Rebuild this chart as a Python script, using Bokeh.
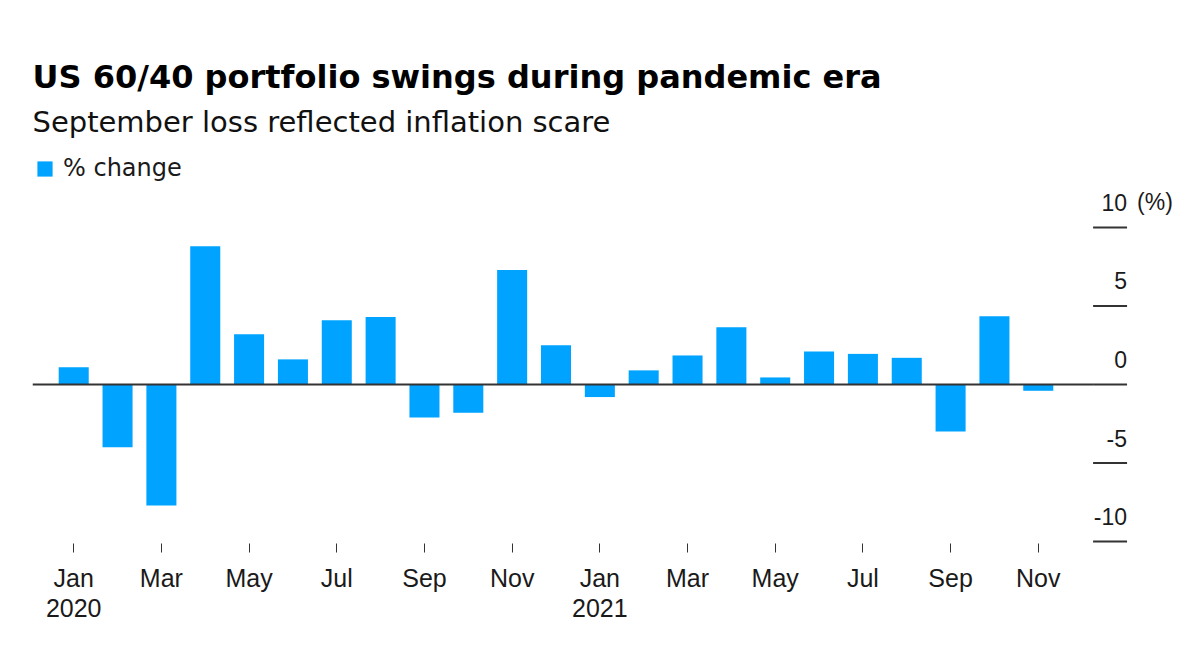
from bokeh.plotting import figure
from bokeh.models import (LinearAxis, FixedTicker, ColumnDataSource, Legend,
                          LegendItem, Range1d, Title)
from bokeh.core.properties import value
from bokeh.embed import file_html
from bokeh.resources import INLINE

# ---------------- data ----------------
months = ["Jan", "Feb", "Mar", "Apr", "May", "Jun", "Jul", "Aug", "Sep", "Oct", "Nov", "Dec",
          "Jan", "Feb", "Mar", "Apr", "May", "Jun", "Jul", "Aug", "Sep", "Oct", "Nov"]
years = [2020] * 12 + [2021] * 11
values = [1.1, -4.0, -7.7, 8.8, 3.2, 1.6, 4.1, 4.3, -2.1, -1.8, 7.3, 2.5,
          -0.8, 0.9, 1.85, 3.65, 0.45, 2.1, 1.95, 1.7, -3.0, 4.35, -0.4]
y_ticks = [-10, -5, 0, 5, 10]
y_tick_labels = ["-10", "-5", "0", "5", "10"]
y_unit = "(%)"

title = "US 60/40 portfolio swings during pandemic era"
subtitle = "September loss reflected inflation scare"
series_name = "% change"

BLUE = "#00a3ff"
INK = "#1a1a1a"
AX = "#333333"

idx = list(range(len(values)))
tick_idx = [i for i in idx if i % 2 == 0]
tick_text = {}
for i in tick_idx:
    lab = months[i]
    if months[i] == "Jan":
        lab = f"{months[i]}\n{years[i]}"
    tick_text[i] = lab

# value-axis geometry (in data units of the month scale)
X_START = -0.94          # left edge of plotting area
AXIS_X = 23.25           # right edge of bar area, where value ticks start
TICK_LEN = 0.775         # length of value tick lines
X_END = 25.70            # frame extends to the right edge of the picture

p = figure(width=1200, height=654,
           x_range=Range1d(X_START, X_END), y_range=Range1d(-10.127, 15.541),
           output_backend="svg", toolbar_location=None,
           x_axis_location=None, y_axis_location=None,
           min_border_left=32, min_border_right=0,
           min_border_top=140, min_border_bottom=111)
p.title.visible = False
p.outline_line_color = None
p.background_fill_color = "white"
p.border_fill_color = "white"
p.grid.visible = False

src = ColumnDataSource(dict(x=idx, v=values))
bars = p.vbar(x="x", top="v", bottom=0, width=0.685, source=src,
              fill_color=BLUE, line_color=None)

# zero baseline across the bar area
p.segment(x0=[X_START], x1=[AXIS_X], y0=[0], y1=[0], line_color=AX, line_width=2)

# value axis: tick lines with labels sitting on top of them
ysrc = ColumnDataSource(dict(x0=[AXIS_X] * len(y_ticks),
                             x1=[AXIS_X + TICK_LEN] * len(y_ticks),
                             y=y_ticks, t=y_tick_labels))
p.segment(x0="x0", x1="x1", y0="y", y1="y", source=ysrc,
          line_color=AX, line_width=2)
p.text(x="x1", y="y", text="t", source=ysrc, y_offset=-25,
       text_align="right", text_baseline="alphabetic",
       text_font=value("Liberation Sans"), text_font_size="23px", text_color=INK)
p.text(x=[AXIS_X + TICK_LEN], y=[y_ticks[-1]], text=[y_unit],
       x_offset=10, y_offset=-25,
       text_align="left", text_baseline="alphabetic",
       text_font=value("Liberation Sans"), text_font_size="23px", text_color=INK)

xaxis = LinearAxis(ticker=FixedTicker(ticks=tick_idx),
                   major_label_overrides=tick_text,
                   axis_line_color=None,
                   major_tick_in=0, major_tick_out=9,
                   major_tick_line_color=AX, major_tick_line_width=1,
                   minor_tick_line_color=None,
                   major_label_text_font="Liberation Sans",
                   major_label_text_font_size="25px",
                   major_label_text_color=INK,
                   major_label_text_line_height=1.1,
                   major_label_standoff=11)
p.add_layout(xaxis, "below")

# legend sits inside the frame, above the value range
legend = Legend(items=[LegendItem(label=series_name, renderers=[bars])],
                location=(3, 361), orientation="horizontal",
                padding=0, margin=0, glyph_width=19, glyph_height=19,
                label_standoff=9, border_line_color=None,
                background_fill_alpha=0,
                label_text_font="DejaVu Sans", label_text_font_size="24px",
                label_text_color=INK)
p.add_layout(legend)

# header: subtitle (closest to the frame), then title
p.add_layout(Title(text=subtitle, align="left", offset=0, standoff=4,
                   text_font="DejaVu Sans", text_font_style="normal",
                   text_font_size="29px", text_color="#111111"), "above")
p.add_layout(Title(text=title, align="left", offset=0, standoff=10,
                   text_font="DejaVu Sans", text_font_style="bold",
                   text_font_size="32px", text_color="#000000"), "above")

open("out.html", "w").write(file_html(p, INLINE))
